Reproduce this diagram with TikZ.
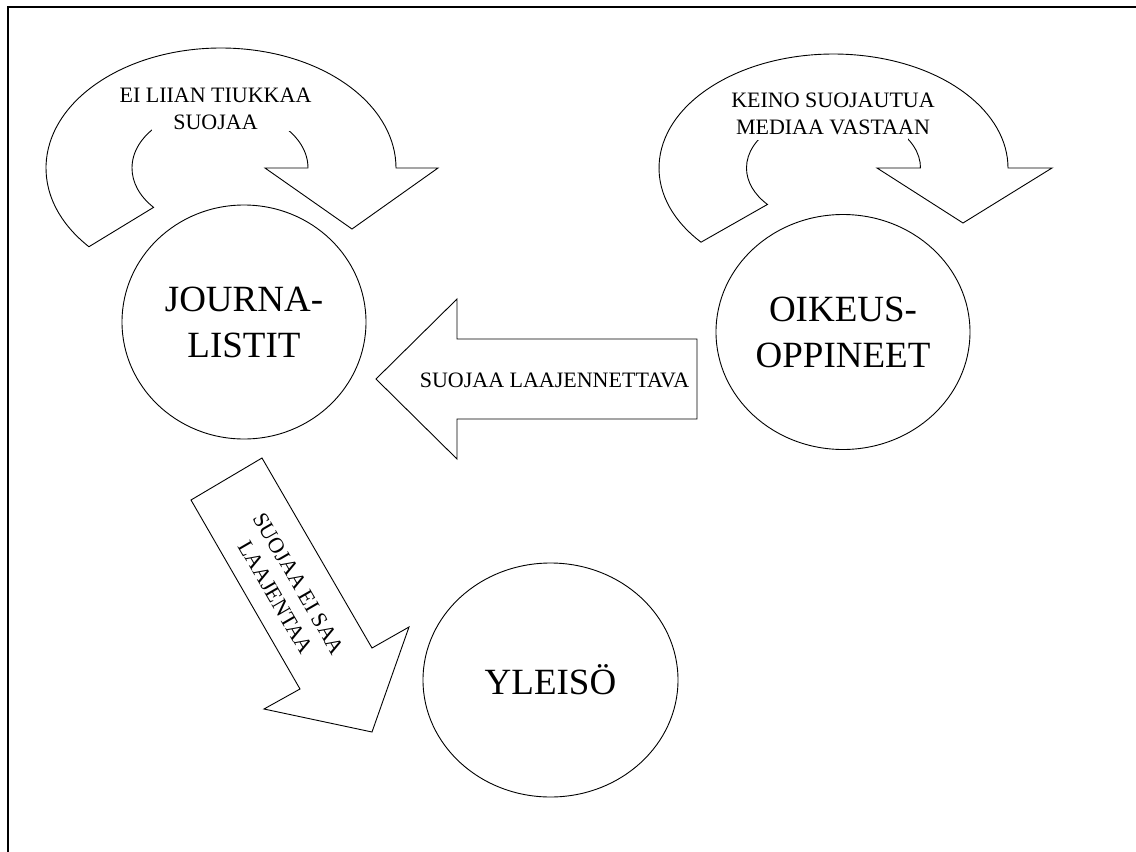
\documentclass[tikz,border=0pt]{standalone}
\usepackage{fontspec}
\setmainfont{Liberation Serif}
\usetikzlibrary{shapes.geometric}
\tikzset{
  blockarrow/.style={draw=black, fill=white, line width=0.9pt, line join=miter},
  bigcirc/.style={ellipse, draw=black, fill=white, line width=0.9pt, inner sep=0pt,
    font=\fontsize{37}{46}\selectfont, align=center},
  smalltext/.style={font=\fontsize{22}{27}\selectfont, align=center, inner sep=0pt},
  mask/.style={fill=white, draw=none}
}
\begin{document}
\begin{tikzpicture}[x=1pt,y=-1pt]
\useasboundingbox (0,0) rectangle (1136,852);
\fill[white] (0,0) rectangle (1136,852);
% frame
\draw[line width=1.8pt, line join=miter] (8,852) -- (8,7) -- (1136,7);

% left curved arrow
\draw[blockarrow] (221,168) ++(139:175 and 120)
  arc[start angle=139, end angle=360, x radius=175, y radius=120]
  -- (438,168) -- (352,229) -- (265,168) -- (308,168)
  arc[start angle=360, end angle=139, x radius=88, y radius=60] -- cycle;
\fill[mask] (152,72) rectangle (290,131);
\node[smalltext] (t1) at (215.5,108.5) {EI LIIAN TIUKKAA\\SUOJAA};

% right curved arrow
\draw[blockarrow] (833.5,168) ++(139.4:174.5 and 114)
  arc[start angle=139.4, end angle=360, x radius=174.5, y radius=114]
  -- (1052,168) -- (963,223) -- (877,168) -- (920.5,168)
  arc[start angle=360, end angle=139.4, x radius=87, y radius=56] -- cycle;
\fill[mask] (757,76) rectangle (908,140);
\node[smalltext] (t2) at (833,113.5) {KEINO SUOJAUTUA\\MEDIAA VASTAAN};

% circles
\node[bigcirc, minimum width=244pt, minimum height=234pt] (jour) at (244,322) {JOURNA-\\LISTIT};
\node[bigcirc, minimum width=254pt, minimum height=235pt] (oik) at (843,332) {OIKEUS-\\OPPINEET};
\node[bigcirc, minimum width=255pt, minimum height=234pt] (yle) at (550.5,680) {YLEISÖ};

% horizontal block arrow
\draw[blockarrow] (376,379) -- (457,299) -- (457,339) -- (697,339) -- (697,419)
  -- (457,419) -- (457,459) -- cycle;
\node[smalltext, anchor=base] (t3) at (554.5,387) {SUOJAA LAAJENNETTAVA};

% diagonal block arrow
\draw[blockarrow] (191,500) -- (262,458) -- (372,648) -- (409,627) -- (372,732)
  -- (264,709) -- (300,689) -- cycle;
\node[smalltext, rotate=-60] (t4) at (287.4,590.5) {SUOJAA EI SAA\\LAAJENTAA};
\end{tikzpicture}
\end{document}
